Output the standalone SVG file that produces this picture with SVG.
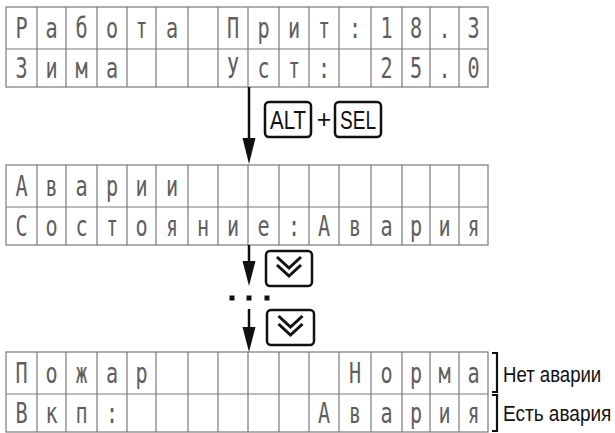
<svg xmlns="http://www.w3.org/2000/svg" xmlns:xlink="http://www.w3.org/1999/xlink" width="615" height="433" viewBox="0 0 615 433">
<style>
.grid{fill:#fff;stroke:#7a7a7a;stroke-width:1.2}
.lcd{font-family:"DejaVu Sans Mono","Liberation Mono",monospace;font-size:28px;fill:#5e5e5e}
.key{fill:#fff;stroke:#111;stroke-width:2.5}
.keytxt{font-family:"Liberation Sans",Arial,sans-serif;font-size:25px;fill:#111;text-anchor:middle}
.lbl{font-family:"Liberation Sans",Arial,sans-serif;font-size:22px;fill:#111}
.ln{fill:none;stroke:#111;stroke-width:2.5}
.head{fill:#111}
.chev{fill:none;stroke:#111;stroke-width:3;stroke-linejoin:miter}
.brk{fill:none;stroke:#111;stroke-width:2.2}
</style>
<defs>
<g id="lcdgrid">
<rect class="grid" x="6" y="0" width="482" height="80"/>
<path class="grid" d="M6 42H488M37 0V80M66 0V80M97 0V80M127 0V80M156 0V80M188 0V80M218 0V80M248 0V80M279 0V80M309 0V80M339 0V80M371 0V80M402 0V80M430 0V80M459 0V80"/>
</g>
</defs>

<g id="lcd-main">
<use xlink:href="#lcdgrid" transform="translate(0,7)"/>
<g transform="scale(0.72,1)">
<text class="lcd" text-anchor="middle" y="38" x="29.86 71.53 113.19 155.56 196.53 238.89 323.61 365.97 408.33 450 493.06 536.81 577.78 617.36 657.64">РаботаПрит:18.3</text>
<text class="lcd" text-anchor="middle" y="78" x="29.86 71.53 113.19 155.56 323.61 365.97 408.33 450 536.81 577.78 617.36 657.64">ЗимаУст:25.0</text>
</g>
</g>

<g id="lcd-alarms">
<use xlink:href="#lcdgrid" transform="translate(0,165)"/>
<g transform="scale(0.72,1)">
<text class="lcd" text-anchor="middle" y="196" x="29.86 71.53 113.19 155.56 196.53 238.89">Аварии</text>
<text class="lcd" text-anchor="middle" y="236" x="29.86 71.53 113.19 155.56 196.53 238.89 281.94 323.61 365.97 408.33 450 493.06 536.81 577.78 617.36 657.64">Состояние:Авария</text>
</g>
</g>

<g id="lcd-fire">
<use xlink:href="#lcdgrid" transform="translate(0,352)"/>
<g transform="scale(0.72,1)">
<text class="lcd" text-anchor="middle" y="383" x="29.86 71.53 113.19 155.56 196.53 493.06 536.81 577.78 617.36 657.64">ПожарНорма</text>
<text class="lcd" text-anchor="middle" y="423" x="29.86 71.53 113.19 155.56 450 493.06 536.81 577.78 617.36 657.64">Вкп:Авария</text>
</g>
</g>

<g id="connectors">
<path class="ln" d="M249 87V140"/>
<polygon class="head" points="242.5,138 255.5,138 249,164"/>
<path class="ln" d="M249 245V263"/>
<polygon class="head" points="242.5,261 255.5,261 249,286"/>
<path class="ln" d="M249 309V329"/>
<polygon class="head" points="242.5,327 255.5,327 249,352"/>
<rect class="head" x="229.5" y="295.5" width="5" height="5"/>
<rect class="head" x="246.5" y="295.5" width="5" height="5"/>
<rect class="head" x="264.5" y="295.5" width="5" height="5"/>
</g>

<g id="key-alt">
<rect class="key" x="265" y="102" width="46" height="35" rx="4"/>
<text class="keytxt" x="288" y="128.5" textLength="36" lengthAdjust="spacingAndGlyphs">ALT</text>
</g>
<g id="plus">
<text class="keytxt" x="324" y="128" font-size="24">+</text>
</g>
<g id="key-sel">
<rect class="key" x="335" y="102" width="46" height="35" rx="4"/>
<text class="keytxt" x="358" y="128.5" textLength="36" lengthAdjust="spacingAndGlyphs">SEL</text>
</g>

<g id="key-down-1">
<rect class="key" x="266" y="251" width="46" height="35" rx="4"/>
<path class="chev" d="M277 257L289 268L301 257M277 265L289 276L301 265"/>
</g>
<g id="key-down-2">
<rect class="key" x="267" y="310" width="47" height="35" rx="4"/>
<path class="chev" d="M278.5 316L290.5 327L302.5 316M278.5 324L290.5 335L302.5 324"/>
</g>

<g id="label-ok">
<path class="brk" d="M492 353H497V392H492"/>
<text class="lbl" transform="translate(503,382) scale(0.845,1)">Нет аварии</text>
</g>
<g id="label-alarm">
<path class="brk" d="M492 395H497V431H492"/>
<text class="lbl" transform="translate(503,421) scale(0.865,1)">Есть авария</text>
</g>
</svg>
